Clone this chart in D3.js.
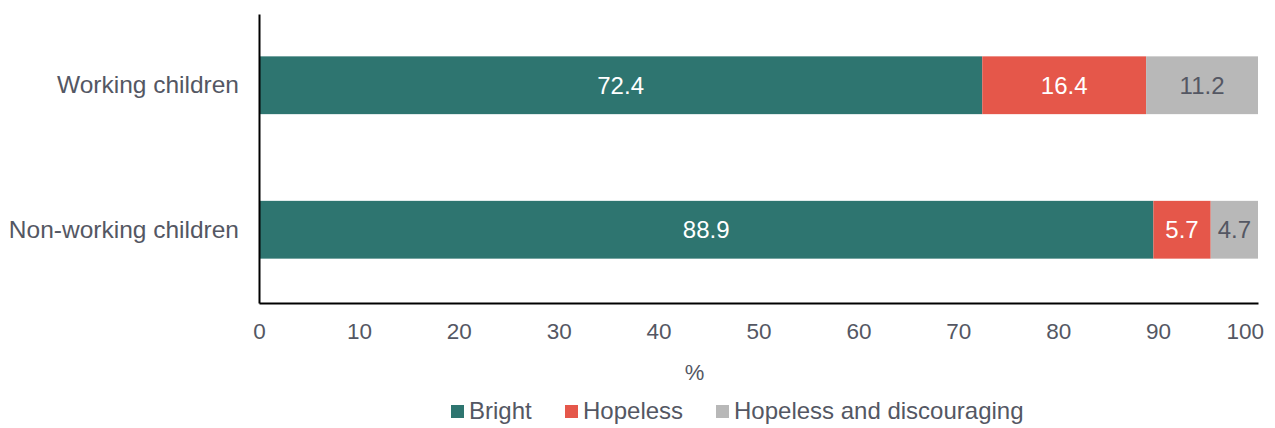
<!DOCTYPE html>
<html>
<head>
<meta charset="utf-8">
<script src="https://cdn.jsdelivr.net/npm/d3@7"></script>
<style>
  body { margin: 0; background: #fff; }
  svg { display: block; }
</style>
</head>
<body>
<script>
// data
const categories = ['Working children', 'Non-working children'];
const seriesNames = ['Bright', 'Hopeless', 'Hopeless and discouraging'];
const bright = [72.4, 88.9];
const hopeless = [16.4, 5.7];
const discouraging = [11.2, 4.7];
const xTicks = [0, 10, 20, 30, 40, 50, 60, 70, 80, 90, 100];

const colors = ['#2e7570', '#e5574a', '#b8b8b8'];
const labelColors = ['#ffffff', '#ffffff', '#545763'];
const textColor = '#545763';
const font = '"Liberation Sans", Arial, sans-serif';

const svgWid = 1275, svgHt = 428;
const margin = {top: 14, right: 17, bottom: 125, left: 259};
const innerW = svgWid - margin.left - margin.right;
const innerH = svgHt - margin.top - margin.bottom;

const svg = d3.select('body').append('svg').attr('width', svgWid).attr('height', svgHt)
    .attr('font-family', font);
const g = svg.append('g').attr('transform', `translate(${margin.left},${margin.top})`);

// 100% stacked: each row normalised by its total
const rows = categories.map((c, i) => {
    const vals = [bright[i], hopeless[i], discouraging[i]];
    const total = d3.sum(vals);
    let acc = 0;
    return vals.map((v, k) => {
        const start = acc / total * 100;
        acc += v;
        return {cat: c, k: k, v: v, x0: start, x1: acc / total * 100};
    });
});

const xScale = d3.scaleLinear().domain([0, 100]).range([0, innerW]);
const yScale = d3.scaleBand().domain(categories).range([0, innerH]).paddingInner(0.6).paddingOuter(0.3);

// bars
const segs = rows.flat();
g.selectAll('rect.seg').data(segs).enter().append('rect')
    .attr('class', 'seg')
    .attr('x', d => xScale(d.x0))
    .attr('y', d => yScale(d.cat) - 1)
    .attr('width', d => xScale(d.x1) - xScale(d.x0))
    .attr('height', yScale.bandwidth())
    .attr('fill', d => colors[d.k]);

// value labels
g.selectAll('text.val').data(segs).enter().append('text')
    .attr('class', 'val')
    .attr('x', d => (xScale(d.x0) + xScale(d.x1)) / 2)
    .attr('y', d => yScale(d.cat) - 1 + yScale.bandwidth() / 2)
    .attr('dy', '0.35em')
    .attr('text-anchor', 'middle')
    .attr('font-size', '24px')
    .attr('fill', d => labelColors[d.k])
    .text(d => d.v.toFixed(1));

// x axis
const xAxis = d3.axisBottom(xScale).tickValues(xTicks).tickSize(0).tickPadding(20);
const xAxisG = g.append('g').attr('transform', `translate(0,${innerH})`).call(xAxis)
    .attr('font-family', font);
xAxisG.select('.domain').attr('stroke', '#000').attr('stroke-width', 2);
xAxisG.selectAll('.tick text').attr('font-size', '22.5px').attr('fill', textColor);
xAxisG.selectAll('.tick text').filter(d => d === 100).attr('text-anchor', 'end').attr('dx', '0.25em');

// y axis
const yAxis = d3.axisLeft(yScale).tickSize(0).tickPadding(20);
const yAxisG = g.append('g').call(yAxis).attr('font-family', font);
yAxisG.select('.domain').attr('stroke', '#000').attr('stroke-width', 2);
yAxisG.selectAll('.tick text').attr('font-size', '24.5px').attr('fill', textColor)
    .attr('transform', 'translate(0,-1)');

// axis title
g.append('text').text('%')
    .attr('x', innerW / 2 - 64).attr('y', innerH + 77)
    .attr('text-anchor', 'middle').attr('font-size', '22px').attr('fill', textColor);

// legend
const legendX = [451, 565, 716];
const legend = svg.append('g');
seriesNames.forEach((name, i) => {
    legend.append('rect').attr('x', legendX[i]).attr('y', 405).attr('width', 13).attr('height', 13).attr('fill', colors[i]);
    legend.append('text').text(name).attr('x', legendX[i] + 18).attr('y', 419)
        .attr('font-size', '24px').attr('fill', textColor);
});
</script>
</body>
</html>
